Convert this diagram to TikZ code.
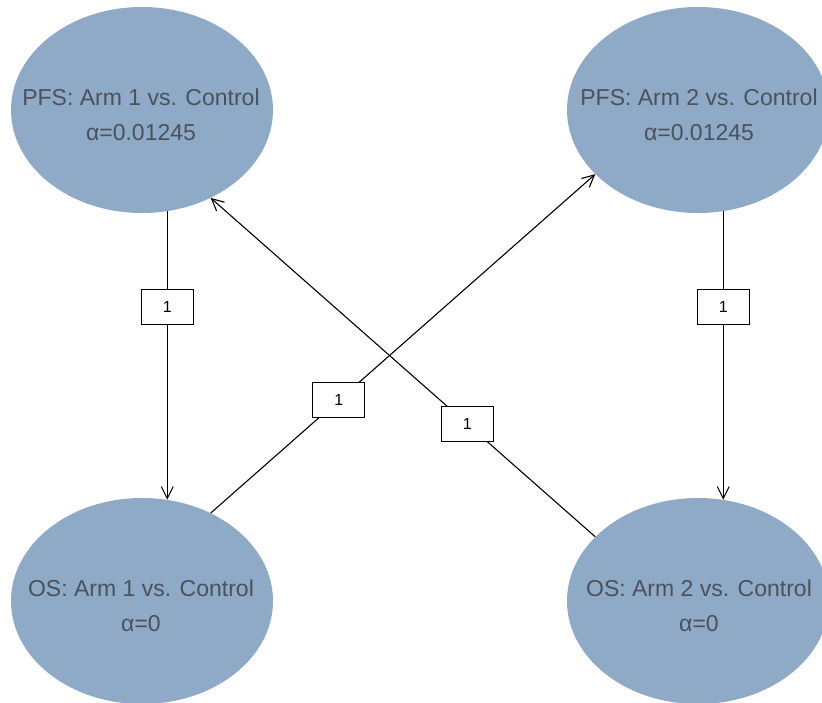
\documentclass[tikz,border=0pt]{standalone}
\usepackage{fontspec}
\setmainfont{Liberation Sans}
\usetikzlibrary{shapes.geometric,arrows.meta}
\definecolor{nodefill}{RGB}{142,170,198}
\definecolor{nodetext}{RGB}{74,82,92}
\begin{document}
\begin{tikzpicture}[x=1pt,y=-1pt,
  hyp/.style={ellipse, fill=nodefill, minimum width=262pt, minimum height=206pt, inner sep=0pt},
  hyptext/.style={text=nodetext, font=\fontsize{23}{28}\selectfont, anchor=base, inner sep=0pt},
  wbox/.style={draw=black, fill=white, line width=1.2pt, minimum width=52pt, minimum height=35pt, inner sep=0pt, font=\fontsize{16}{18}\selectfont},
  edge/.style={draw=black, line width=1.1pt, -{Straight Barb[length=12pt,width=12pt]}}]
\useasboundingbox (0,0) rectangle (822,702);
\clip (0,0) rectangle (822,702);
\fill[white] (0,0) rectangle (822,702);
% hypotheses
\node[hyp] (pfs1) at (142,110) {};
\node[hyp] (pfs2) at (698,110) {};
\node[hyp] (os1) at (142,601) {};
\node[hyp] (os2) at (698,601) {};
% texts
\node[hyptext] (pfs1a) at (141,105) {PFS: Arm 1 vs. Control};
\node[hyptext] (pfs1b) at (141,140) {α=0.01245};
\node[hyptext] (pfs2a) at (699,105) {PFS: Arm 2 vs. Control};
\node[hyptext] (pfs2b) at (699,140) {α=0.01245};
\node[hyptext] (os1a) at (141,596) {OS: Arm 1 vs. Control};
\node[hyptext] (os1b) at (141,631) {α=0};
\node[hyptext] (os2a) at (699,596) {OS: Arm 2 vs. Control};
\node[hyptext] (os2b) at (699,631) {α=0};
% edges
\draw[edge] (pfs1.-76.1) -- node[wbox, pos=0.333] (w1) {1} (os1.76.1);
\draw[edge] (pfs2.-76.1) -- node[wbox, pos=0.333] (w2) {1} (os2.76.1);
\draw[edge] (os1.52.5) -- node[wbox, pos=0.333] (w3) {1} (pfs2.-148.5);
\draw[edge] (os2.148.5) -- node[wbox, pos=0.333] (w4) {1} (pfs1.-52.5);
\end{tikzpicture}
\end{document}
